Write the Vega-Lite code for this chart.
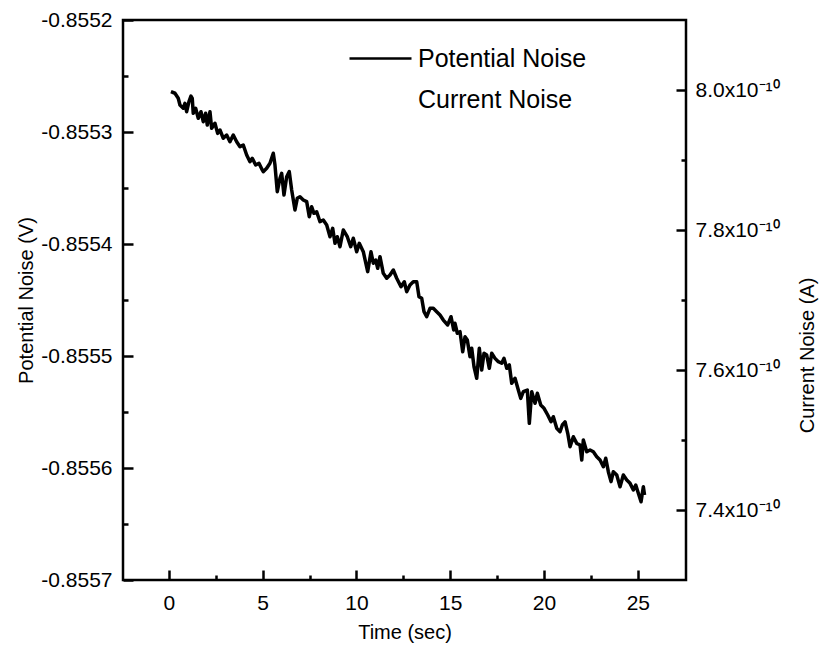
{
  "$schema": "https://vega.github.io/schema/vega-lite/v6.json",
  "width": 563,
  "height": 560,
  "autosize": {"type": "none"},
  "padding": {"left": 123, "top": 20, "right": 134, "bottom": 80},
  "background": "white",
  "config": {
    "view": {"stroke": "black", "strokeWidth": 2.5},
    "font": "Liberation Sans",
    "axis": {
      "domain": false,
      "grid": false,
      "tickColor": "black",
      "tickWidth": 2.5,
      "labelColor": "black",
      "titleColor": "black",
      "labelFont": "Liberation Sans",
      "titleFont": "Liberation Sans",
      "labelFontSize": 21,
      "titleFontSize": 20,
      "titleFontWeight": "normal"
    },
    "legend": {"padding": 0}
  },
  "data": {
    "values": [
      {"t": 0.107, "v": -0.855264, "s": "Potential Noise"},
      {"t": 0.32, "v": -0.8552654, "s": "Potential Noise"},
      {"t": 0.496, "v": -0.8552699, "s": "Potential Noise"},
      {"t": 0.587, "v": -0.8552759, "s": "Potential Noise"},
      {"t": 0.763, "v": -0.8552788, "s": "Potential Noise"},
      {"t": 0.853, "v": -0.8552744, "s": "Potential Noise"},
      {"t": 0.944, "v": -0.8552819, "s": "Potential Noise"},
      {"t": 1.067, "v": -0.8552729, "s": "Potential Noise"},
      {"t": 1.173, "v": -0.8552679, "s": "Potential Noise"},
      {"t": 1.243, "v": -0.8552699, "s": "Potential Noise"},
      {"t": 1.296, "v": -0.8552833, "s": "Potential Noise"},
      {"t": 1.424, "v": -0.8552788, "s": "Potential Noise"},
      {"t": 1.563, "v": -0.8552878, "s": "Potential Noise"},
      {"t": 1.707, "v": -0.8552819, "s": "Potential Noise"},
      {"t": 1.829, "v": -0.8552908, "s": "Potential Noise"},
      {"t": 1.957, "v": -0.8552833, "s": "Potential Noise"},
      {"t": 2.043, "v": -0.8552938, "s": "Potential Noise"},
      {"t": 2.187, "v": -0.8552819, "s": "Potential Noise"},
      {"t": 2.277, "v": -0.8552967, "s": "Potential Noise"},
      {"t": 2.453, "v": -0.8552922, "s": "Potential Noise"},
      {"t": 2.597, "v": -0.8553012, "s": "Potential Noise"},
      {"t": 2.72, "v": -0.8552982, "s": "Potential Noise"},
      {"t": 2.896, "v": -0.8553056, "s": "Potential Noise"},
      {"t": 3.077, "v": -0.8553027, "s": "Potential Noise"},
      {"t": 3.253, "v": -0.8553087, "s": "Potential Noise"},
      {"t": 3.429, "v": -0.8553027, "s": "Potential Noise"},
      {"t": 3.611, "v": -0.8553087, "s": "Potential Noise"},
      {"t": 3.787, "v": -0.8553131, "s": "Potential Noise"},
      {"t": 3.963, "v": -0.8553116, "s": "Potential Noise"},
      {"t": 4.144, "v": -0.8553205, "s": "Potential Noise"},
      {"t": 4.32, "v": -0.8553265, "s": "Potential Noise"},
      {"t": 4.443, "v": -0.8553235, "s": "Potential Noise"},
      {"t": 4.624, "v": -0.8553295, "s": "Potential Noise"},
      {"t": 4.8, "v": -0.8553279, "s": "Potential Noise"},
      {"t": 4.976, "v": -0.8553339, "s": "Potential Noise"},
      {"t": 5.029, "v": -0.8553354, "s": "Potential Noise"},
      {"t": 5.211, "v": -0.8553324, "s": "Potential Noise"},
      {"t": 5.387, "v": -0.8553279, "s": "Potential Noise"},
      {"t": 5.563, "v": -0.855319, "s": "Potential Noise"},
      {"t": 5.653, "v": -0.8553295, "s": "Potential Noise"},
      {"t": 5.776, "v": -0.8553533, "s": "Potential Noise"},
      {"t": 5.92, "v": -0.8553413, "s": "Potential Noise"},
      {"t": 6.011, "v": -0.8553369, "s": "Potential Noise"},
      {"t": 6.133, "v": -0.8553563, "s": "Potential Noise"},
      {"t": 6.277, "v": -0.8553399, "s": "Potential Noise"},
      {"t": 6.416, "v": -0.8553354, "s": "Potential Noise"},
      {"t": 6.544, "v": -0.8553518, "s": "Potential Noise"},
      {"t": 6.72, "v": -0.8553696, "s": "Potential Noise"},
      {"t": 6.843, "v": -0.8553592, "s": "Potential Noise"},
      {"t": 6.987, "v": -0.8553578, "s": "Potential Noise"},
      {"t": 7.163, "v": -0.8553607, "s": "Potential Noise"},
      {"t": 7.344, "v": -0.8553622, "s": "Potential Noise"},
      {"t": 7.483, "v": -0.8553756, "s": "Potential Noise"},
      {"t": 7.611, "v": -0.8553667, "s": "Potential Noise"},
      {"t": 7.733, "v": -0.8553726, "s": "Potential Noise"},
      {"t": 7.877, "v": -0.8553712, "s": "Potential Noise"},
      {"t": 8.053, "v": -0.8553801, "s": "Potential Noise"},
      {"t": 8.229, "v": -0.8553786, "s": "Potential Noise"},
      {"t": 8.411, "v": -0.855383, "s": "Potential Noise"},
      {"t": 8.587, "v": -0.8553935, "s": "Potential Noise"},
      {"t": 8.731, "v": -0.855386, "s": "Potential Noise"},
      {"t": 8.853, "v": -0.8553994, "s": "Potential Noise"},
      {"t": 8.976, "v": -0.8553935, "s": "Potential Noise"},
      {"t": 9.12, "v": -0.8554024, "s": "Potential Noise"},
      {"t": 9.296, "v": -0.8553875, "s": "Potential Noise"},
      {"t": 9.509, "v": -0.8553935, "s": "Potential Noise"},
      {"t": 9.691, "v": -0.8554024, "s": "Potential Noise"},
      {"t": 9.829, "v": -0.8553949, "s": "Potential Noise"},
      {"t": 10.011, "v": -0.8554069, "s": "Potential Noise"},
      {"t": 10.149, "v": -0.8553994, "s": "Potential Noise"},
      {"t": 10.363, "v": -0.8554069, "s": "Potential Noise"},
      {"t": 10.597, "v": -0.8554247, "s": "Potential Noise"},
      {"t": 10.773, "v": -0.8554069, "s": "Potential Noise"},
      {"t": 10.896, "v": -0.8554172, "s": "Potential Noise"},
      {"t": 11.024, "v": -0.8554143, "s": "Potential Noise"},
      {"t": 11.131, "v": -0.8554217, "s": "Potential Noise"},
      {"t": 11.253, "v": -0.8554113, "s": "Potential Noise"},
      {"t": 11.429, "v": -0.8554262, "s": "Potential Noise"},
      {"t": 11.611, "v": -0.8554306, "s": "Potential Noise"},
      {"t": 11.787, "v": -0.8554277, "s": "Potential Noise"},
      {"t": 11.963, "v": -0.8554232, "s": "Potential Noise"},
      {"t": 12.144, "v": -0.8554306, "s": "Potential Noise"},
      {"t": 12.373, "v": -0.8554381, "s": "Potential Noise"},
      {"t": 12.549, "v": -0.8554337, "s": "Potential Noise"},
      {"t": 12.677, "v": -0.8554426, "s": "Potential Noise"},
      {"t": 12.853, "v": -0.8554366, "s": "Potential Noise"},
      {"t": 13.029, "v": -0.8554337, "s": "Potential Noise"},
      {"t": 13.211, "v": -0.8554337, "s": "Potential Noise"},
      {"t": 13.333, "v": -0.8554471, "s": "Potential Noise"},
      {"t": 13.477, "v": -0.8554485, "s": "Potential Noise"},
      {"t": 13.6, "v": -0.8554604, "s": "Potential Noise"},
      {"t": 13.744, "v": -0.8554649, "s": "Potential Noise"},
      {"t": 13.92, "v": -0.8554574, "s": "Potential Noise"},
      {"t": 14.096, "v": -0.8554574, "s": "Potential Noise"},
      {"t": 14.277, "v": -0.8554604, "s": "Potential Noise"},
      {"t": 14.453, "v": -0.8554634, "s": "Potential Noise"},
      {"t": 14.629, "v": -0.8554679, "s": "Potential Noise"},
      {"t": 14.864, "v": -0.8554723, "s": "Potential Noise"},
      {"t": 15.04, "v": -0.8554649, "s": "Potential Noise"},
      {"t": 15.184, "v": -0.8554768, "s": "Potential Noise"},
      {"t": 15.253, "v": -0.8554708, "s": "Potential Noise"},
      {"t": 15.376, "v": -0.8554797, "s": "Potential Noise"},
      {"t": 15.52, "v": -0.8554783, "s": "Potential Noise"},
      {"t": 15.664, "v": -0.8554962, "s": "Potential Noise"},
      {"t": 15.787, "v": -0.8554828, "s": "Potential Noise"},
      {"t": 15.909, "v": -0.8554857, "s": "Potential Noise"},
      {"t": 16.053, "v": -0.8555006, "s": "Potential Noise"},
      {"t": 16.144, "v": -0.8554931, "s": "Potential Noise"},
      {"t": 16.267, "v": -0.8555096, "s": "Potential Noise"},
      {"t": 16.411, "v": -0.8555199, "s": "Potential Noise"},
      {"t": 16.549, "v": -0.8554931, "s": "Potential Noise"},
      {"t": 16.677, "v": -0.8555125, "s": "Potential Noise"},
      {"t": 16.8, "v": -0.8554976, "s": "Potential Noise"},
      {"t": 16.944, "v": -0.8554991, "s": "Potential Noise"},
      {"t": 17.083, "v": -0.855511, "s": "Potential Noise"},
      {"t": 17.211, "v": -0.8554976, "s": "Potential Noise"},
      {"t": 17.387, "v": -0.8555021, "s": "Potential Noise"},
      {"t": 17.563, "v": -0.8555051, "s": "Potential Noise"},
      {"t": 17.744, "v": -0.8555065, "s": "Potential Noise"},
      {"t": 17.867, "v": -0.8555021, "s": "Potential Noise"},
      {"t": 18.011, "v": -0.855511, "s": "Potential Noise"},
      {"t": 18.149, "v": -0.855508, "s": "Potential Noise"},
      {"t": 18.277, "v": -0.8555244, "s": "Potential Noise"},
      {"t": 18.453, "v": -0.8555199, "s": "Potential Noise"},
      {"t": 18.629, "v": -0.8555304, "s": "Potential Noise"},
      {"t": 18.757, "v": -0.8555378, "s": "Potential Noise"},
      {"t": 18.896, "v": -0.8555319, "s": "Potential Noise"},
      {"t": 19.109, "v": -0.8555304, "s": "Potential Noise"},
      {"t": 19.216, "v": -0.8555601, "s": "Potential Noise"},
      {"t": 19.344, "v": -0.8555319, "s": "Potential Noise"},
      {"t": 19.52, "v": -0.8555422, "s": "Potential Noise"},
      {"t": 19.643, "v": -0.8555333, "s": "Potential Noise"},
      {"t": 19.824, "v": -0.8555438, "s": "Potential Noise"},
      {"t": 20.0, "v": -0.8555467, "s": "Potential Noise"},
      {"t": 20.197, "v": -0.8555527, "s": "Potential Noise"},
      {"t": 20.373, "v": -0.8555587, "s": "Potential Noise"},
      {"t": 20.496, "v": -0.8555542, "s": "Potential Noise"},
      {"t": 20.677, "v": -0.8555646, "s": "Potential Noise"},
      {"t": 20.853, "v": -0.8555676, "s": "Potential Noise"},
      {"t": 20.976, "v": -0.8555616, "s": "Potential Noise"},
      {"t": 21.12, "v": -0.8555587, "s": "Potential Noise"},
      {"t": 21.264, "v": -0.855569, "s": "Potential Noise"},
      {"t": 21.387, "v": -0.855581, "s": "Potential Noise"},
      {"t": 21.563, "v": -0.8555721, "s": "Potential Noise"},
      {"t": 21.744, "v": -0.855578, "s": "Potential Noise"},
      {"t": 21.92, "v": -0.8555795, "s": "Potential Noise"},
      {"t": 22.011, "v": -0.8555929, "s": "Potential Noise"},
      {"t": 22.096, "v": -0.855575, "s": "Potential Noise"},
      {"t": 22.277, "v": -0.8555855, "s": "Potential Noise"},
      {"t": 22.453, "v": -0.8555839, "s": "Potential Noise"},
      {"t": 22.629, "v": -0.8555855, "s": "Potential Noise"},
      {"t": 22.811, "v": -0.8555899, "s": "Potential Noise"},
      {"t": 22.987, "v": -0.8555929, "s": "Potential Noise"},
      {"t": 23.163, "v": -0.8555988, "s": "Potential Noise"},
      {"t": 23.291, "v": -0.8555913, "s": "Potential Noise"},
      {"t": 23.429, "v": -0.8556033, "s": "Potential Noise"},
      {"t": 23.573, "v": -0.8556122, "s": "Potential Noise"},
      {"t": 23.696, "v": -0.8556033, "s": "Potential Noise"},
      {"t": 23.877, "v": -0.8556063, "s": "Potential Noise"},
      {"t": 24.053, "v": -0.8556167, "s": "Potential Noise"},
      {"t": 24.229, "v": -0.8556063, "s": "Potential Noise"},
      {"t": 24.411, "v": -0.8556107, "s": "Potential Noise"},
      {"t": 24.587, "v": -0.8556137, "s": "Potential Noise"},
      {"t": 24.763, "v": -0.8556196, "s": "Potential Noise"},
      {"t": 24.891, "v": -0.8556152, "s": "Potential Noise"},
      {"t": 25.029, "v": -0.8556226, "s": "Potential Noise"},
      {"t": 25.173, "v": -0.8556301, "s": "Potential Noise"},
      {"t": 25.296, "v": -0.8556167, "s": "Potential Noise"},
      {"t": 25.36, "v": -0.8556241, "s": "Potential Noise"}
    ]
  },
  "layer": [
    {
      "mark": {"type": "line", "strokeWidth": 3.5, "strokeJoin": "round"},
      "encoding": {
        "x": {
          "field": "t", "type": "quantitative",
          "scale": {"domain": [-2.45, 27.57], "nice": false, "zero": false},
          "axis": {"orient": "bottom", "values": [0, 5, 10, 15, 20, 25], "tickSize": -10, "labelPadding": 22, "title": "Time (sec)", "titlePadding": 9}
        },
        "y": {
          "field": "v", "type": "quantitative",
          "scale": {"domain": [-0.8557, -0.8552], "nice": false, "zero": false},
          "axis": {"orient": "left", "values": [-0.8557, -0.8556, -0.8555, -0.8554, -0.8553, -0.8552], "labelExpr": "replace(format(datum.value, '.4f'), '−', '-')", "tickSize": -10, "labelPadding": 21, "title": "Potential Noise (V)", "titlePadding": 4}
        },
        "stroke": {
          "field": "s", "type": "nominal",
          "scale": {"domain": ["Potential Noise", "Current Noise"], "range": ["black", "white"]},
          "legend": {
            "orient": "none", "legendX": 224, "legendY": 26, "title": null,
            "symbolType": "M-1,0H5.2", "symbolSize": 400, "symbolStrokeWidth": 2.5,
            "labelFontSize": 25, "labelFont": "Liberation Sans", "labelColor": "black",
            "labelLimit": 400, "labelOffset": 46, "rowPadding": 15
          }
        }
      }
    },
    {
      "mark": {"type": "line", "strokeOpacity": 0},
      "encoding": {
        "x": {"field": "t", "type": "quantitative", "axis": null},
        "y": {
          "field": "i", "type": "quantitative",
          "scale": {"domain": [7.3e-10, 8.1e-10], "nice": false, "zero": false},
          "axis": {"orient": "right", "values": [7.4e-10, 7.6e-10, 7.8e-10, 8.0e-10], "labelExpr": "format(datum.value * 1e10, '.1f') + 'x10⁻¹⁰'", "tickSize": -10, "labelPadding": 19, "title": "Current Noise (A)", "titleAngle": 270, "titleX": 121, "titleY": 335, "titleBaseline": "middle", "titleAlign": "center"}
        }
      }
    },
    {
      "mark": {"type": "line", "strokeOpacity": 0},
      "encoding": {
        "x": {
          "field": "t", "type": "quantitative",
          "axis": {"orient": "bottom", "values": [2.5, 7.5, 12.5, 17.5, 22.5], "tickSize": -5, "labels": false, "title": null}
        },
        "y": {
          "field": "i", "type": "quantitative",
          "scale": {"domain": [-0.8557, -0.8552], "nice": false, "zero": false},
          "axis": {"orient": "left", "values": [-0.85565, -0.85555, -0.85545, -0.85535, -0.85525], "tickSize": -5, "labels": false, "title": null}
        }
      }
    },
    {
      "mark": {"type": "line", "strokeOpacity": 0},
      "encoding": {
        "x": {"field": "t", "type": "quantitative", "axis": null},
        "y": {
          "field": "i", "type": "quantitative",
          "scale": {"domain": [7.3e-10, 8.1e-10], "nice": false, "zero": false},
          "axis": {"orient": "right", "values": [7.5e-10, 7.7e-10, 7.9e-10], "tickSize": -5, "labels": false, "title": null}
        }
      }
    }
  ],
  "resolve": {"scale": {"y": "independent"}, "axis": {"x": "independent", "y": "independent"}}
}
